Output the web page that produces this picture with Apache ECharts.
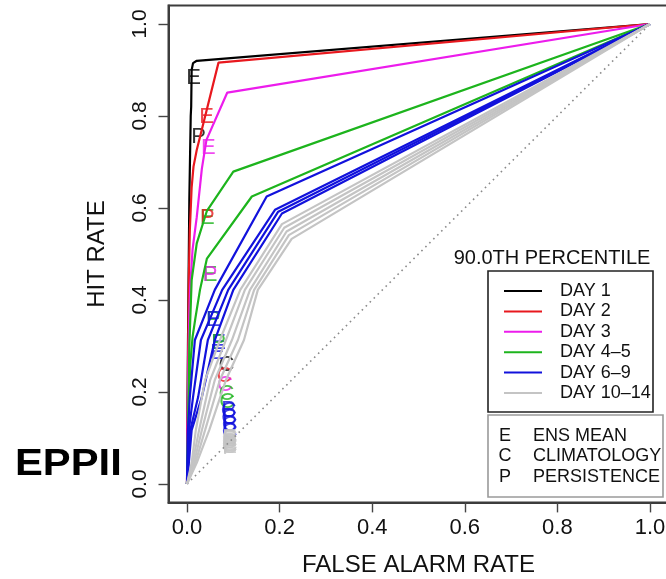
<!DOCTYPE html>
<html>
<head>
<meta charset="utf-8">
<script src="https://cdn.jsdelivr.net/npm/echarts@6/dist/echarts.min.js"></script>
<style>
  html, body { margin: 0; padding: 0; background: #ffffff; }
  #chart { width: 666px; height: 579px; }
</style>
</head>
<body>
<div id="chart"></div>
<script>
// Axis ticks (both axes share the same 0..1 scale)
const tickValues = [0, 0.2, 0.4, 0.6, 0.8, 1.0];

// Legend entries and their colours
const legendLabels = ['DAY 1', 'DAY 2', 'DAY 3', 'DAY 4\u20135', 'DAY 6\u20139', 'DAY 10\u201314'];
const groupColors = ['#000000', '#e8181e', '#ec1cec', '#1db41d', '#1212dc', '#c4c4c4'];
const keyLetters = ['E', 'C', 'P'];
const keyNames = ['ENS MEAN', 'CLIMATOLOGY', 'PERSISTENCE'];

// ROC curves: [false alarm rate, hit rate] per lead day
const day1 = [[0, 0], [0.002, 0.30], [0.005, 0.62], [0.008, 0.80], [0.009, 0.82], [0.010, 0.90], [0.013, 0.915], [0.021, 0.92], [1, 1]];
const day2 = [[0, 0], [0.002, 0.25], [0.004, 0.45], [0.006, 0.55], [0.010, 0.645], [0.014, 0.69], [0.021, 0.726], [0.068, 0.916], [1, 1]];
const day3 = [[0, 0], [0.002, 0.20], [0.005, 0.37], [0.007, 0.43], [0.012, 0.51], [0.021, 0.58], [0.032, 0.685], [0.042, 0.748], [0.087, 0.851], [1, 1]];
const day4 = [[0, 0], [0.002, 0.10], [0.003, 0.16], [0.005, 0.30], [0.010, 0.443], [0.021, 0.523], [0.043, 0.594], [0.100, 0.679], [1, 1]];
const day5 = [[0, 0], [0.002, 0.10], [0.004, 0.18], [0.007, 0.26], [0.012, 0.32], [0.018, 0.36], [0.028, 0.422], [0.043, 0.49], [0.140, 0.625], [1, 1]];
const day6 = [[0, 0], [0.002, 0.117], [0.006, 0.189], [0.017, 0.313], [0.060, 0.422], [0.172, 0.625], [1, 1]];
const day7 = [[0, 0], [0.004, 0.117], [0.013, 0.189], [0.030, 0.313], [0.076, 0.422], [0.190, 0.596], [1, 1]];
const day8 = [[0, 0], [0.007, 0.117], [0.024, 0.189], [0.045, 0.313], [0.089, 0.422], [0.197, 0.592], [1, 1]];
const day9 = [[0, 0], [0.010, 0.117], [0.032, 0.189], [0.060, 0.313], [0.100, 0.422], [0.205, 0.588], [1, 1]];
const day10 = [[0, 0], [0.010, 0.046], [0.019, 0.117], [0.039, 0.226], [0.071, 0.313], [0.115, 0.422], [0.205, 0.565], [1, 1]];
const day11 = [[0, 0], [0.012, 0.046], [0.026, 0.117], [0.050, 0.226], [0.084, 0.313], [0.125, 0.422], [0.210, 0.557], [1, 1]];
const day12 = [[0, 0], [0.015, 0.046], [0.032, 0.117], [0.060, 0.226], [0.097, 0.313], [0.136, 0.422], [0.215, 0.549], [1, 1]];
const day13 = [[0, 0], [0.018, 0.046], [0.039, 0.117], [0.071, 0.226], [0.110, 0.313], [0.145, 0.422], [0.220, 0.541], [1, 1]];
const day14 = [[0, 0], [0.021, 0.046], [0.048, 0.117], [0.084, 0.226], [0.123, 0.313], [0.153, 0.422], [0.226, 0.533], [1, 1]];
const curves = [day1, day2, day3, day4, day5, day6, day7, day8, day9, day10, day11, day12, day13, day14];
const curveGroup = [0, 1, 2, 3, 3, 4, 4, 4, 4, 5, 5, 5, 5, 5];

// No-skill diagonal
const diagonal = [[0, 0], [1, 1]];

// Single-point forecasts (E = ens mean, C = climatology, P = persistence), in drawing order
const markFAR = [0.014, 0.025, 0.085, 0.042, 0.081, 0.046, 0.082, 0.044, 0.057, 0.085, 0.050, 0.087, 0.044, 0.050,
                 0.057, 0.068, 0.068, 0.066, 0.090, 0.091, 0.092, 0.092, 0.090, 0.091, 0.092, 0.092,
                 0.092, 0.092, 0.092, 0.092, 0.092, 0.092, 0.092, 0.092, 0.092, 0.092, 0.092, 0.092, 0.092, 0.092];
const markHR  = [0.882, 0.755, 0.258, 0.798, 0.235, 0.730, 0.215, 0.578, 0.357, 0.195, 0.454, 0.178, 0.578, 0.454,
                 0.357, 0.306, 0.306, 0.285, 0.160, 0.145, 0.130, 0.115, 0.158, 0.143, 0.128, 0.113,
                 0.100, 0.098, 0.095, 0.092, 0.089, 0.087, 0.085, 0.082, 0.080, 0.078, 0.100, 0.092, 0.086, 0.080];
const markText = ['E', 'P', 'C', 'E', 'C', 'E', 'C', 'E', 'P', 'C', 'E', 'C', 'P', 'P',
                  'E', 'E', 'P', 'E', 'P', 'P', 'P', 'P', 'C', 'C', 'C', 'C',
                  'E', 'P', 'E', 'P', 'E', 'P', 'E', 'P', 'E', 'P', 'C', 'C', 'C', 'C'];
const markGroup = [0, 0, 0, 1, 1, 2, 2, 3, 3, 3, 3, 3, 1, 2,
                   4, 4, 3, 4, 4, 4, 4, 4, 4, 4, 4, 4,
                   5, 5, 5, 5, 5, 5, 5, 5, 5, 5, 5, 5, 5, 5];

const FONT = '"Liberation Sans", Arial, Helvetica, sans-serif';
const chart = echarts.init(document.getElementById('chart'), null, { renderer: 'canvas' });

const series = [];
series.push({
  type: 'line', data: diagonal, showSymbol: false, silent: true,
  lineStyle: { color: '#8a8a8a', width: 1.6, type: [1.6, 4] }
});
curves.forEach((pts, i) => {
  series.push({
    type: 'line', name: 'curve' + (i + 1), data: pts, showSymbol: false, silent: true,
    lineStyle: { color: groupColors[curveGroup[i]], width: 2.2 }
  });
});
series.push({
  type: 'scatter', silent: true, symbolSize: 1,
  itemStyle: { color: 'rgba(0,0,0,0)' },
  data: markFAR.map((x, i) => ({
    value: [x, markHR[i]],
    label: { color: groupColors[markGroup[i]] },
    letter: markText[i]
  })),
  label: {
    show: true, position: 'inside', fontFamily: FONT, fontSize: 22,
    formatter: p => p.data.letter
  },
  labelLayout: { hideOverlap: false }
});

// Legend drawn as graphic elements
const legendGraphics = [];
const LX = 488, LY = 271;
legendGraphics.push({
  type: 'text', x: 552, y: 258,
  style: { text: '90.0TH PERCENTILE', font: '20px ' + FONT, fill: '#111', align: 'center', verticalAlign: 'middle' }
});
legendGraphics.push({
  type: 'rect', shape: { x: LX, y: LY, width: 165, height: 141 },
  style: { fill: 'none', stroke: '#222', lineWidth: 1.6 }
});
legendLabels.forEach((lab, i) => {
  const y = 291 + i * 20.4;
  legendGraphics.push({
    type: 'line', shape: { x1: 504, y1: y, x2: 542, y2: y },
    style: { stroke: groupColors[i], lineWidth: 2 }
  });
  legendGraphics.push({
    type: 'text', x: 560, y: y,
    style: { text: lab, font: '18px ' + FONT, fill: '#111', verticalAlign: 'middle' }
  });
});
legendGraphics.push({
  type: 'rect', shape: { x: LX, y: 415, width: 175, height: 82 },
  style: { fill: 'none', stroke: '#9a9a9a', lineWidth: 1.6 }
});
keyLetters.forEach((c, i) => {
  const y = 436 + i * 20.5;
  legendGraphics.push({
    type: 'text', x: 505, y: y,
    style: { text: c, font: '18px ' + FONT, fill: '#111', align: 'center', verticalAlign: 'middle' }
  });
  legendGraphics.push({
    type: 'text', x: 533, y: y,
    style: { text: keyNames[i], font: '18px ' + FONT, fill: '#111', verticalAlign: 'middle' }
  });
});
legendGraphics.push({
  type: 'text', x: 15, y: 465, scaleX: 1.16,
  style: { text: 'EPPII', font: 'bold 36px ' + FONT, fill: '#000', verticalAlign: 'middle' }
});

const axisCommon = {
  type: 'value', min: -0.04, max: 1.04,
  splitLine: { show: false },
  axisLine: { show: true, onZero: false, lineStyle: { color: '#3c3c3c', width: 2 } },
  axisTick: { show: true, inside: false, length: 10, customValues: tickValues, lineStyle: { color: '#444', width: 1.4 } },
  nameLocation: 'middle',
  nameTextStyle: { fontFamily: FONT, fontSize: 24, color: '#111' }
};

chart.setOption({
  animation: false,
  backgroundColor: '#ffffff',
  grid: {
    left: 168.5, top: 5.6, width: 500, height: 496.8,
    show: true, borderColor: '#3c3c3c', borderWidth: 2, backgroundColor: 'transparent',
    containLabel: false, outerBoundsMode: 'none'
  },
  xAxis: Object.assign({}, axisCommon, {
    name: 'FALSE ALARM RATE', nameGap: 51,
    axisLabel: { customValues: tickValues, formatter: v => v.toFixed(1), fontFamily: FONT, fontSize: 22, color: '#111', margin: 15 }
  }),
  yAxis: Object.assign({}, axisCommon, {
    name: 'HIT RATE', nameGap: 59, nameRotate: 90,
    axisLabel: { customValues: tickValues, formatter: v => v.toFixed(1), rotate: 90, fontFamily: FONT, fontSize: 21, color: '#111', margin: 18 }
  }),
  series: series,
  graphic: legendGraphics
});
</script>
</body>
</html>
